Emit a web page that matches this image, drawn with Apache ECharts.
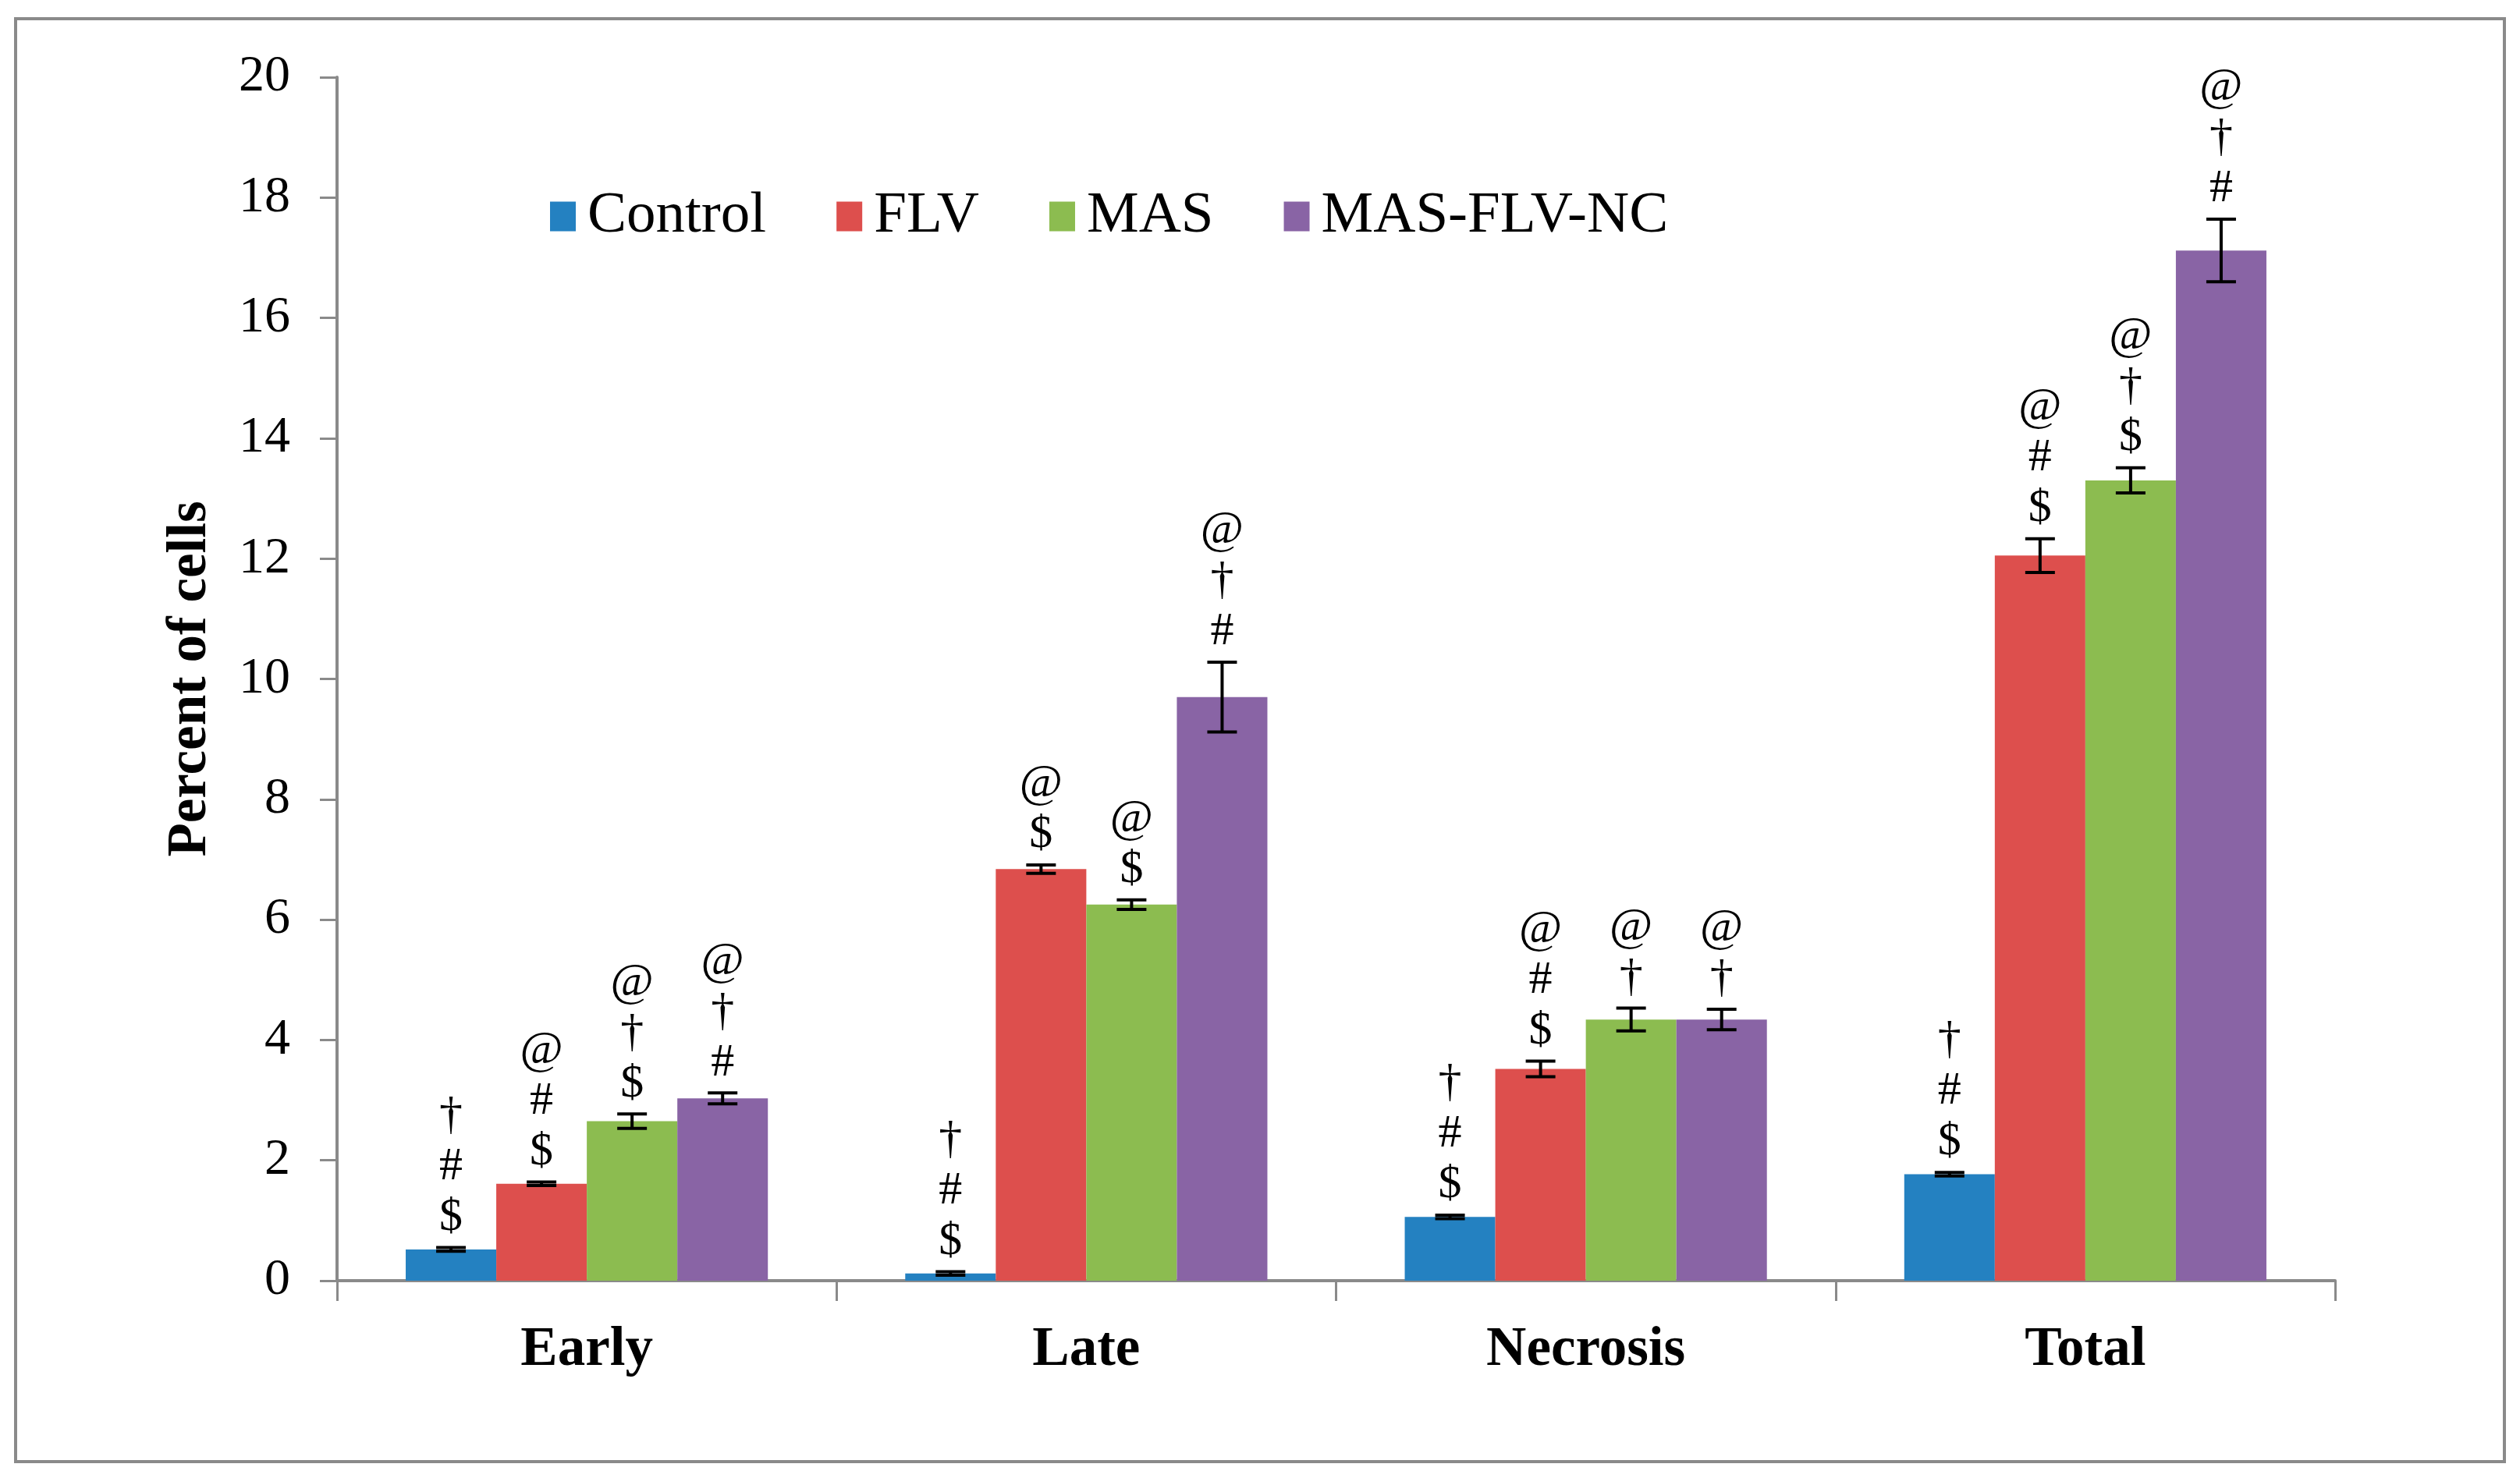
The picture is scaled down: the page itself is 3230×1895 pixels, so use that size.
<!DOCTYPE html>
<html>
<head>
<meta charset="utf-8">
<script src="https://cdn.jsdelivr.net/npm/echarts@6/dist/echarts.min.js"></script>
<style>
html,body{margin:0;padding:0;background:#fff;}
#chart{width:3230px;height:1895px;}
</style>
</head>
<body>
<div id="chart"></div>
<script>
// ---- data ----
const categories = ['Early', 'Late', 'Necrosis', 'Total'];
const seriesNames = ['Control', 'FLV', 'MAS', 'MAS-FLV-NC'];
const controlValues = [0.52, 0.12, 1.06, 1.77];
const controlErrors = [0.03, 0.03, 0.03, 0.03];
const flvValues = [1.61, 6.84, 3.52, 12.05];
const flvErrors = [0.03, 0.07, 0.13, 0.28];
const masValues = [2.65, 6.25, 4.34, 13.30];
const masErrors = [0.12, 0.08, 0.19, 0.21];
const ncValues = [3.03, 9.70, 4.34, 17.12];
const ncErrors = [0.09, 0.58, 0.17, 0.52];
// significance marks, listed top to bottom
const controlMarks = ['†\n#\n$', '†\n#\n$', '†\n#\n$', '†\n#\n$'];
const flvMarks = ['@\n#\n$', '@\n$', '@\n#\n$', '@\n#\n$'];
const masMarks = ['@\n†\n$', '@\n$', '@\n†', '@\n†\n$'];
const ncMarks = ['@\n†\n#', '@\n†\n#', '@\n†', '@\n†\n#'];
const yTicks = {min: 0, max: 20, interval: 2};

const colors = ['#2481C1', '#DD4F4D', '#8CBC50', '#8964A5'];
const valuesList = [controlValues, flvValues, masValues, ncValues];
const errorsList = [controlErrors, flvErrors, masErrors, ncErrors];
const marksList = [controlMarks, flvMarks, masMarks, ncMarks];
const CAT_GAP = 0.275;
const FONT = '"Liberation Serif", "Times New Roman", serif';

const chart = echarts.init(document.getElementById('chart'), null, {renderer: 'canvas'});

const series = [];
seriesNames.forEach((name, i) => {
  series.push({
    name: name,
    type: 'bar',
    data: valuesList[i],
    itemStyle: {color: colors[i]},
    barGap: '0%',
    barCategoryGap: (CAT_GAP * 100) + '%',
    z: 2
  });
});
seriesNames.forEach((name, i) => {
  series.push({
    name: name + ' err',
    type: 'custom',
    z: 5,
    silent: true,
    data: categories.map((c, k) => [k, valuesList[i][k], errorsList[i][k]]),
    encode: {x: 0, y: 1},
    renderItem: function (params, api) {
      const k = api.value(0);
      const v = api.value(1);
      const e = api.value(2);
      const marks = marksList[i][k];
      const band = api.size([1, 0])[0];
      const barW = band * (1 - CAT_GAP) / seriesNames.length;
      const center = api.coord([k, v]);
      const cx = center[0] - barW * seriesNames.length / 2 + barW * (i + 0.5);
      const yTop = api.coord([k, v + e])[1];
      const yBot = api.coord([k, v - e])[1];
      const capHalf = 19;
      const lineStyle = {stroke: '#000', lineWidth: 4};
      return {
        type: 'group',
        children: [
          {type: 'line', shape: {x1: cx, y1: yTop, x2: cx, y2: yBot}, style: lineStyle},
          {type: 'line', shape: {x1: cx - capHalf, y1: yTop, x2: cx + capHalf, y2: yTop}, style: lineStyle},
          {type: 'line', shape: {x1: cx - capHalf, y1: yBot, x2: cx + capHalf, y2: yBot}, style: lineStyle},
          {
            type: 'text',
            x: cx,
            y: yTop - 6,
            style: {
              text: marks,
              fontFamily: FONT,
              fontSize: 60,
              lineHeight: 65,
              fill: '#000',
              align: 'center',
              verticalAlign: 'bottom'
            }
          }
        ]
      };
    }
  });
});

const option = {
  animation: false,
  backgroundColor: '#fff',
  textStyle: {fontFamily: FONT},
  graphic: [{
    type: 'rect',
    shape: {x: 20, y: 24, width: 3190, height: 1850},
    style: {fill: 'none', stroke: '#8a8a8a', lineWidth: 4},
    silent: true
  }],
  legend: {
    data: seriesNames,
    left: 700,
    top: 235,
    icon: 'rect',
    itemWidth: 33,
    itemHeight: 38,
    itemGap: 90,
    textStyle: {fontFamily: FONT, fontSize: 75, color: '#000', padding: [0, 0, 0, 10]},
    selectedMode: false
  },
  grid: {left: 432, right: 237, top: 99, bottom: 253, containLabel: false},
  xAxis: {
    type: 'category',
    data: categories,
    axisLine: {show: true, lineStyle: {color: '#8a8a8a', width: 4}},
    axisTick: {show: true, inside: false, length: 26, lineStyle: {color: '#8a8a8a', width: 3}},
    axisLabel: {fontFamily: FONT, fontSize: 71, fontWeight: 'bold', color: '#000', margin: 54},
    splitLine: {show: false}
  },
  yAxis: {
    type: 'value',
    min: yTicks.min,
    max: yTicks.max,
    interval: yTicks.interval,
    name: 'Percent of cells',
    nameLocation: 'middle',
    nameGap: 152,
    nameRotate: 90,
    nameTextStyle: {fontFamily: FONT, fontSize: 71, fontWeight: 'bold', color: '#000'},
    axisLine: {show: true, lineStyle: {color: '#8a8a8a', width: 4}},
    axisTick: {show: true, inside: false, length: 22, lineStyle: {color: '#8a8a8a', width: 3}},
    axisLabel: {fontFamily: FONT, fontSize: 66, color: '#000', margin: 60},
    splitLine: {show: false}
  },
  series: series
};
chart.setOption(option);
</script>
</body>
</html>
